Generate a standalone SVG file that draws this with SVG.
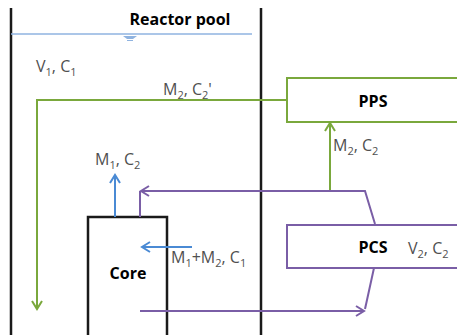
<svg xmlns="http://www.w3.org/2000/svg" width="457" height="335" viewBox="0 0 457 335">
<defs>
<style>
.lbl{font-family:"Open Sans","Noto Sans","Liberation Sans",sans-serif;font-size:16px;fill:#505050}
.sub{font-size:11px}
.bold{font-family:"Open Sans","Noto Sans","Liberation Sans",sans-serif;font-size:16px;font-weight:bold;fill:#000}
.wall{stroke:#1a1a1a;stroke-width:2.5;fill:none}
.green{stroke:#7aa83c;stroke-width:2;fill:none}
.purple{stroke:#7a5ea6;stroke-width:2;fill:none}
.blue{stroke:#4a8ad4;stroke-width:2;fill:none}
</style>
<marker id="ag" markerWidth="12" markerHeight="12" refX="10" refY="6" orient="auto" markerUnits="userSpaceOnUse"><path d="M2,1 L10,6 L2,11" fill="none" stroke="#7aa83c" stroke-width="2"/></marker>
<marker id="ap" markerWidth="12" markerHeight="12" refX="10" refY="6" orient="auto" markerUnits="userSpaceOnUse"><path d="M2,1 L10,6 L2,11" fill="none" stroke="#7a5ea6" stroke-width="2"/></marker>
<marker id="ab" markerWidth="12" markerHeight="12" refX="10" refY="6" orient="auto" markerUnits="userSpaceOnUse"><path d="M2,1 L10,6 L2,11" fill="none" stroke="#4a8ad4" stroke-width="2"/></marker>
</defs>
<rect width="457" height="335" fill="#fff"/>
<g id="pool">
<line class="wall" x1="11" y1="8" x2="11" y2="335"/>
<line class="wall" x1="261" y1="8" x2="261" y2="335"/>
<line x1="11" y1="34" x2="252" y2="34" stroke="#8fb3e0" stroke-width="1.5"/>
<path d="M123,36 L137,36 L133,39 L127,39 Z" fill="#8fb3e0"/>
<line x1="127" y1="40.5" x2="133" y2="40.5" stroke="#8fb3e0" stroke-width="1"/>
<text class="bold" x="180" y="25" text-anchor="middle">Reactor pool</text>
<text class="lbl" x="36" y="72">V<tspan class="sub" dy="4">1</tspan><tspan dy="-4">, C</tspan><tspan class="sub" dy="4">1</tspan></text>
</g>
<g id="core">
<rect x="88" y="217" width="79" height="130" fill="#fff" stroke="#1a1a1a" stroke-width="2.5"/>
<text class="bold" x="128" y="279" text-anchor="middle">Core</text>
</g>
<g id="pps">
<rect x="287" y="78" width="180" height="44" fill="#fff" stroke="#7aa83c" stroke-width="2"/>
<text class="bold" x="373" y="107" text-anchor="middle">PPS</text>
</g>
<g id="pcs">
<rect x="287" y="225" width="180" height="43" fill="#fff" stroke="#7a5ea6" stroke-width="2"/>
<text class="bold" x="373" y="253" text-anchor="middle">PCS</text>
<text class="lbl" x="408" y="254">V<tspan class="sub" dy="4">2</tspan><tspan dy="-4">, C</tspan><tspan class="sub" dy="4">2</tspan></text>
</g>
<g id="connectors">
<path class="green" d="M287,100 L37,100 L37,309" marker-end="url(#ag)"/>
<path class="green" d="M330,191 L330,123" marker-end="url(#ag)"/>
<path class="purple" d="M375,224 L365,191 L141,191" marker-end="url(#ap)"/>
<line class="purple" x1="140" y1="191" x2="140" y2="217"/>
<path class="purple" d="M140,311 L364,311" marker-end="url(#ap)"/>
<line class="purple" x1="374" y1="268" x2="365" y2="309"/>
<path class="blue" d="M115,217 L115,175" marker-end="url(#ab)"/>
<path class="blue" d="M192,247 L142,247" marker-end="url(#ab)"/>
</g>
<g id="labels">
<text class="lbl" x="163" y="95">M<tspan class="sub" dy="4">2</tspan><tspan dy="-4">, C</tspan><tspan class="sub" dy="4">2</tspan><tspan dy="-4">'</tspan></text>
<text class="lbl" x="333" y="151">M<tspan class="sub" dy="4">2</tspan><tspan dy="-4">, C</tspan><tspan class="sub" dy="4">2</tspan></text>
<text class="lbl" x="95" y="165">M<tspan class="sub" dy="4">1</tspan><tspan dy="-4">, C</tspan><tspan class="sub" dy="4">2</tspan></text>
<text class="lbl" x="171" y="263">M<tspan class="sub" dy="4">1</tspan><tspan dy="-4">+M</tspan><tspan class="sub" dy="4">2</tspan><tspan dy="-4">, C</tspan><tspan class="sub" dy="4">1</tspan></text>
</g>
</svg>
